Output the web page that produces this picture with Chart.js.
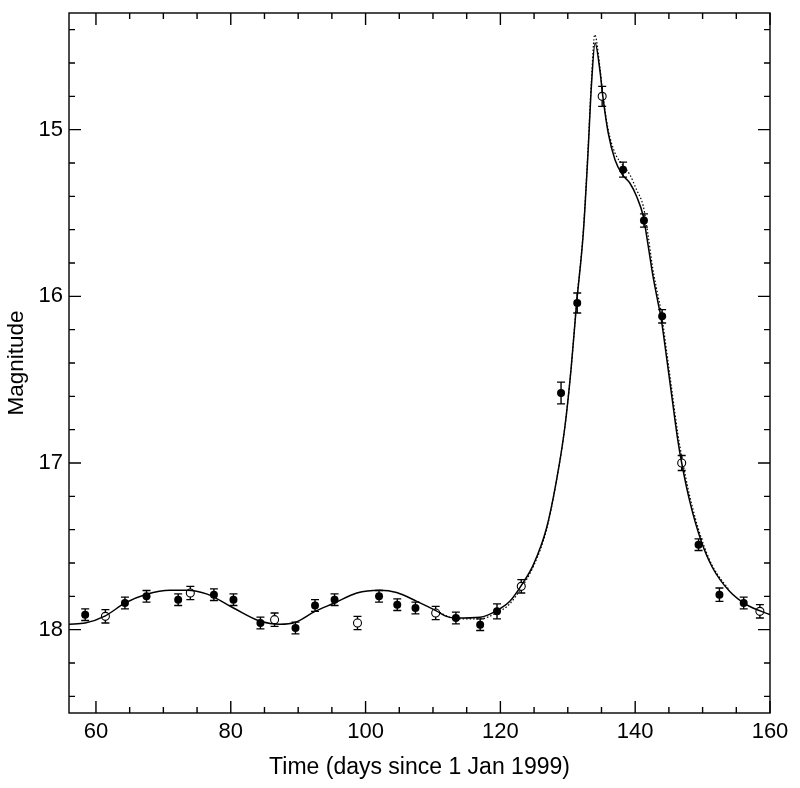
<!DOCTYPE html>
<html>
<head>
<meta charset="utf-8">
<script src="https://cdn.jsdelivr.net/npm/chart.js@4.4.1/dist/chart.umd.min.js"></script>
<style>
  html, body { margin: 0; padding: 0; background: #fff; }
  #wrap { width: 800px; height: 788px; position: relative; }
</style>
</head>
<body>
<div id="wrap"><canvas id="lightCurve"></canvas></div>
<script>
// observations (filled = one band, open = the other)
var filledDay = [58.4, 64.3, 67.5, 72.2, 77.5, 80.4, 84.4, 89.6, 92.5, 95.4, 102.0, 104.7, 107.4, 113.4, 117.0, 119.5, 129.0, 131.4, 138.2, 141.3, 144.0, 149.4, 152.5, 156.1];
var filledMag = [17.91, 17.84, 17.80, 17.82, 17.79, 17.82, 17.96, 17.99, 17.855, 17.82, 17.80, 17.85, 17.87, 17.93, 17.97, 17.89, 16.58, 16.04, 15.24, 15.545, 16.12, 17.49, 17.79, 17.84];
var filledErr = [0.035, 0.035, 0.035, 0.035, 0.035, 0.035, 0.035, 0.035, 0.035, 0.035, 0.035, 0.035, 0.035, 0.035, 0.035, 0.045, 0.065, 0.06, 0.045, 0.04, 0.04, 0.035, 0.04, 0.035];

var openDay = [61.4, 74.0, 86.5, 98.8, 110.4, 123.1, 135.1, 146.9, 158.5];
var openMag = [17.92, 17.78, 17.94, 17.96, 17.90, 17.74, 14.80, 17.00, 17.89];
var openErr = [0.04, 0.04, 0.04, 0.04, 0.04, 0.04, 0.06, 0.045, 0.04];

// model curves
var fitDay = [56, 58.4, 61.4, 64.3, 67.5, 71.0, 73.5, 76.5, 80.4, 84.4, 87.3, 89.6, 92.5, 95.4, 98.7, 102.1, 104.6, 107.6, 110.5, 112.0, 113.4, 117.0, 119.4, 121.4, 123.1, 124.9, 126.85, 128.3, 129.55, 130.5, 131.3, 132.3, 133.0, 133.5, 134.05, 134.75, 135.2, 136.0, 137.0, 138.1, 139.2, 140.2, 141.2, 141.9, 142.6, 143.4, 143.8, 144.7, 145.5, 146.35, 146.9, 148.1, 149.8, 151.5, 154.0, 156.5, 160];
var fitMag = [17.967, 17.96, 17.917, 17.84, 17.787, 17.763, 17.763, 17.787, 17.87, 17.95, 17.967, 17.955, 17.89, 17.84, 17.78, 17.763, 17.777, 17.83, 17.887, 17.92, 17.93, 17.925, 17.887, 17.83, 17.735, 17.61, 17.39, 17.11, 16.79, 16.43, 16.045, 15.62, 15.14, 14.74, 14.48, 14.64, 14.80, 15.02, 15.18, 15.27, 15.32, 15.40, 15.52, 15.69, 15.87, 16.04, 16.12, 16.38, 16.62, 16.87, 17.0, 17.23, 17.47, 17.63, 17.77, 17.85, 17.91];

var altDay = [110.5, 113.4, 117.0, 119.4, 121.4, 123.1, 124.9, 126.85, 128.3, 129.55, 130.5, 131.3, 132.3, 133.0, 133.5, 134.0, 134.75, 135.2, 136.0, 137.0, 138.1, 139.2, 140.2, 141.2, 141.9, 142.6, 143.4, 143.8, 144.7, 145.5, 146.35, 146.9, 148.1, 149.8, 151.5, 154.0];
var altMag = [17.887, 17.935, 17.935, 17.90, 17.845, 17.75, 17.62, 17.40, 17.11, 16.79, 16.43, 16.04, 15.61, 15.12, 14.71, 14.43, 14.62, 14.79, 15.00, 15.14, 15.21, 15.27, 15.36, 15.46, 15.63, 15.83, 16.00, 16.08, 16.34, 16.58, 16.83, 16.96, 17.20, 17.45, 17.62, 17.765];

var xTicks = [60, 80, 100, 120, 140, 160];
var yTicks = [15, 16, 17, 18];

function pts(xs, ys) {
	return xs.map(function (x, i) { return { x: x, y: ys[i] }; });
}

var frame = {
	id: 'frame',
	beforeDatasetsDraw: function (chart) {
		var ctx = chart.ctx, xs = chart.scales.x, ys = chart.scales.y;
		ctx.save();
		ctx.strokeStyle = '#000';
		ctx.lineWidth = 1.4;
		function bars(days, mags, errs) {
			days.forEach(function (d, i) {
				var px = xs.getPixelForValue(d);
				var y1 = ys.getPixelForValue(mags[i] - errs[i]);
				var y2 = ys.getPixelForValue(mags[i] + errs[i]);
				ctx.beginPath();
				ctx.moveTo(px, y1); ctx.lineTo(px, y2);
				ctx.moveTo(px - 4, y1); ctx.lineTo(px + 4, y1);
				ctx.moveTo(px - 4, y2); ctx.lineTo(px + 4, y2);
				ctx.stroke();
			});
		}
		bars(filledDay, filledMag, filledErr);
		bars(openDay, openMag, openErr);
		ctx.restore();
	},
	afterDraw: function (chart) {
		var ctx = chart.ctx, a = chart.chartArea, xs = chart.scales.x, ys = chart.scales.y;
		ctx.save();
		ctx.strokeStyle = '#000';
		ctx.lineWidth = 1.4;
		ctx.strokeRect(a.left, a.top, a.right - a.left, a.bottom - a.top);
		ctx.beginPath();
		for (var v = 60; v <= 160; v += 5) {
			var px = xs.getPixelForValue(v);
			var len = (v % 20 === 0) ? 12 : 6;
			ctx.moveTo(px, a.bottom); ctx.lineTo(px, a.bottom - len);
			ctx.moveTo(px, a.top); ctx.lineTo(px, a.top + len);
		}
		for (var k = 72; k <= 92; k++) {
			var py = ys.getPixelForValue(k / 5);
			var l2 = (k % 5 === 0) ? 12 : 6;
			ctx.moveTo(a.left, py); ctx.lineTo(a.left + l2, py);
			ctx.moveTo(a.right, py); ctx.lineTo(a.right - l2, py);
		}
		ctx.stroke();
		ctx.restore();
	}
};

Chart.defaults.font.family = '"Liberation Sans", Arial, sans-serif';
Chart.defaults.color = '#000';

var ctxCurve = document.getElementById('lightCurve').getContext('2d');
var lightCurve = new Chart(ctxCurve, {
	type: 'scatter',
	data: {
		datasets: [{
			label: 'alt model',
			data: pts(altDay, altMag),
			showLine: true,
			borderColor: '#000',
			borderWidth: 1.2,
			borderDash: [1.5, 2],
			pointRadius: 0,
			cubicInterpolationMode: 'monotone',
			order: 4
		}, {
			label: 'open',
			data: pts(openDay, openMag),
			pointRadius: 4,
			pointBackgroundColor: '#fff',
			pointBorderColor: '#000',
			pointBorderWidth: 1.1,
			order: 3
		}, {
			label: 'model',
			data: pts(fitDay, fitMag),
			showLine: true,
			borderColor: '#000',
			borderWidth: 1.5,
			pointRadius: 0,
			cubicInterpolationMode: 'monotone',
			order: 2
		}, {
			label: 'filled',
			data: pts(filledDay, filledMag),
			pointRadius: 4,
			pointBackgroundColor: '#000',
			pointBorderColor: '#000',
			pointBorderWidth: 0,
			order: 1
		}]
	},
	options: {
		responsive: true,
		maintainAspectRatio: false,
		animation: false,
		devicePixelRatio: 1,
		layout: { padding: { left: 0, right: 30, top: 13, bottom: 0 } },
		plugins: { legend: { display: false }, tooltip: { enabled: false } },
		scales: {
			x: {
				type: 'linear',
				min: 56,
				max: 160,
				grid: { display: false, drawTicks: false },
				border: { display: false },
				afterBuildTicks: function (s) { s.ticks = xTicks.map(function (v) { return { value: v }; }); },
				afterFit: function (s) { s.height = 75; s.paddingLeft = 0; s.paddingRight = 0; },
				ticks: { font: { size: 22 }, padding: 6, maxRotation: 0 },
				title: { display: true, text: 'Time (days since 1 Jan 1999)', font: { size: 23 }, padding: { top: 0, bottom: 7 } }
			},
			y: {
				type: 'linear',
				reverse: true,
				min: 14.3,
				max: 18.5,
				grid: { display: false, drawTicks: false },
				border: { display: false },
				afterBuildTicks: function (s) { s.ticks = yTicks.map(function (v) { return { value: v }; }); },
				afterFit: function (s) { s.width = 69; s.paddingTop = 0; s.paddingBottom = 0; },
				ticks: { font: { size: 22 }, padding: 6 },
				title: { display: true, text: 'Magnitude', font: { size: 22.5 }, padding: { top: 3, bottom: 0 } }
			}
		}
	},
	plugins: [frame]
});
</script>
</body>
</html>
